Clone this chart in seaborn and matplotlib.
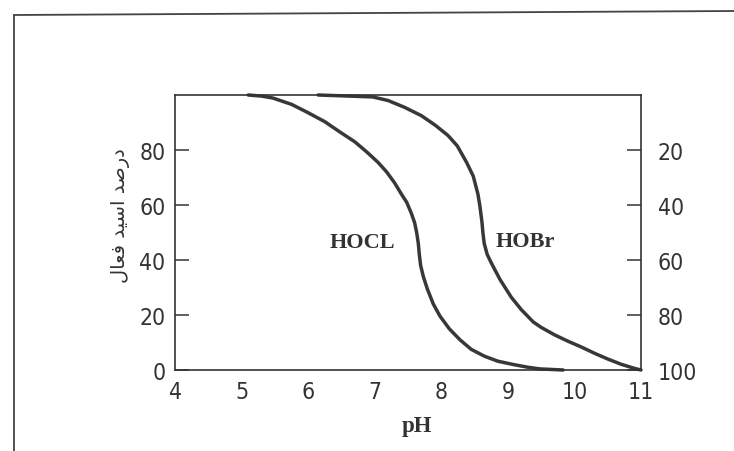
import matplotlib
matplotlib.use("Agg")
import numpy as np
import pandas as pd
import seaborn as sns
import matplotlib.pyplot as plt
from matplotlib.lines import Line2D

# ---- data ----
ph_hocl = [5.10, 5.30, 5.47, 5.75, 5.98, 6.25, 6.48, 6.70, 6.88, 7.05, 7.18, 7.30, 7.40, 7.48,
           7.55, 7.60, 7.63, 7.655, 7.67, 7.69, 7.73, 7.79, 7.88, 7.98, 8.12, 8.28, 8.45, 8.65,
           8.85, 9.08, 9.30, 9.48, 9.83]
pct_hocl = [100, 99.6, 98.9, 96.6, 93.8, 90.3, 86.5, 83.0, 79.3, 75.5, 72.0, 68.0, 64.0, 61.0,
            57.0, 53.5, 50.0, 46.0, 42.0, 38.0, 34.0, 29.5, 24.0, 19.6, 15.0, 11.0, 7.5, 5.0,
            3.2, 2.0, 1.0, 0.4, 0.0]

ph_hobr = [6.15, 6.97, 7.20, 7.45, 7.70, 7.91, 8.10, 8.24, 8.38, 8.48, 8.55, 8.58, 8.61, 8.625,
           8.645, 8.69, 8.75, 8.88, 9.05, 9.20, 9.38, 9.50, 9.70, 9.90, 10.10, 10.30, 10.50,
           10.70, 10.90, 11.00]
pct_hobr = [100, 99.3, 98.0, 95.5, 92.5, 89.0, 85.3, 81.5, 75.5, 70.5, 64.0, 59.6, 54.0, 50.0,
            46.0, 42.0, 39.0, 33.0, 26.5, 22.0, 17.5, 15.5, 12.8, 10.5, 8.4, 6.1, 4.0,
            2.1, 0.6, 0.0]

x_ticks = [4, 5, 6, 7, 8, 9, 10, 11]
left_ticks = [0, 20, 40, 60, 80]
right_ticks = [20, 40, 60, 80, 100]

acid_names = ["HOCL", "HOBr"]
# "درصد اسید فعال" written in visual (shaped, left-to-right) order
ylabel_text = "\uFEDD\uFE8E\uFECC\uFED3 \uFEAA\uFEF4\uFEB3\uFE8D \uFEAA\uFEBB\uFEAD\uFEA9"

df = pd.concat([
    pd.DataFrame({"pH": ph_hocl, "pct": pct_hocl, "acid": acid_names[0]}),
    pd.DataFrame({"pH": ph_hobr, "pct": pct_hobr, "acid": acid_names[1]}),
], ignore_index=True)

sns.set_theme(style="white")
plt.rcParams["font.family"] = ["DejaVu Sans"]

ink = "#333333"
fig = plt.figure(figsize=(7.34, 4.52), dpi=100)
ax = fig.add_axes([175 / 734, 1 - 371 / 452, 466 / 734, 275 / 452])

sns.lineplot(data=df, x="pH", y="pct", hue="acid",
             palette={acid_names[0]: "#383838", acid_names[1]: "#383838"},
             linewidth=2.5, legend=False, ax=ax, sort=False, estimator=None)
for ln in ax.lines:
    ln.set_clip_on(False)
    ln.set_solid_capstyle("round")
    ln.set_solid_joinstyle("round")

ax.set_xlim(4, 11)
ax.set_ylim(0, 100)
ax.set_xticks(x_ticks)
ax.set_xticklabels([str(v) for v in x_ticks])
ax.set_yticks(left_ticks)
ax.set_yticklabels([str(v) for v in left_ticks])
for s in ax.spines.values():
    s.set_color(ink)
    s.set_linewidth(1.2)
ax.tick_params(axis="both", direction="in", length=10, width=1.1,
               color=ink, labelcolor=ink, labelsize=16.5, pad=7,
               top=False, right=False)
for lab in ax.get_xticklabels() + ax.get_yticklabels():
    lab.set_fontstretch("condensed")

ax2 = ax.twinx()
ax2.set_ylim(100, 0)
ax2.set_yticks(right_ticks)
ax2.set_yticklabels([str(v) for v in right_ticks])
for s in ax2.spines.values():
    s.set_visible(False)
ax2.tick_params(axis="y", direction="in", length=10, width=1.1,
                color=ink, labelcolor=ink, labelsize=16.5, pad=12)
for lab in ax2.get_yticklabels():
    lab.set_fontstretch("condensed")
ax2.grid(False)
ax.grid(False)

ax.set_xlabel("pH", fontsize=16.5, fontweight="bold", family="Liberation Serif", color=ink)
ax.xaxis.set_label_coords(0.519, -0.165)
ax.set_ylabel("")

fig.text(120 / 734, 1 - 216 / 452, ylabel_text, rotation=90, ha="center", va="center",
         fontsize=14, color=ink, family="DejaVu Sans")

ax.text(6.82, 46.5, acid_names[0], ha="center", va="center", fontsize=16,
        fontweight="bold", family="Liberation Serif", color=ink)
ax.text(9.26, 47.0, acid_names[1], ha="center", va="center", fontsize=16,
        fontweight="bold", family="Liberation Serif", color=ink)

# outer frame of the scanned figure
fig.add_artist(Line2D([14 / 734, 14 / 734], [1 - 16 / 452, 0], transform=fig.transFigure,
                      color="#444444", linewidth=1.3))
fig.add_artist(Line2D([14 / 734, 1.0], [1 - 16 / 452, 1 - 12 / 452], transform=fig.transFigure,
                      color="#444444", linewidth=1.3))

fig.savefig("out.png", dpi=100, facecolor="white")
